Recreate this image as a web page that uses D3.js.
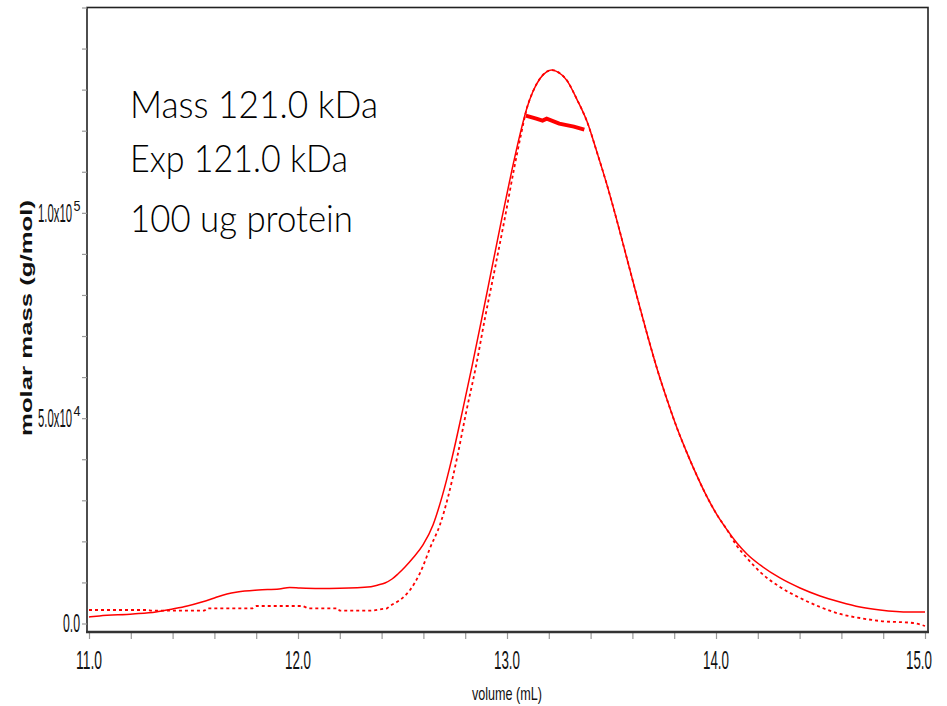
<!DOCTYPE html>
<html>
<head>
<meta charset="utf-8">
<script src="https://cdn.jsdelivr.net/npm/d3@7/dist/d3.min.js"></script>
<style>
  html, body { margin: 0; padding: 0; background: #ffffff; }
  svg { display: block; }
</style>
</head>
<body>
<svg id="chart" width="947" height="706"></svg>
<script>
// ---- data ----
const lsVolume = [11.00, 11.05, 11.21, 11.32, 11.40, 11.47, 11.54, 11.60, 11.66, 11.71, 11.81, 11.91, 11.96, 12.01, 12.10, 12.20, 12.349, 12.383, 12.416, 12.450, 12.478, 12.512, 12.550, 12.598, 12.646, 12.689, 12.737, 12.785, 12.833, 12.880, 12.928, 12.976, 13.024, 13.062, 13.096, 13.124, 13.158, 13.191, 13.215, 13.239, 13.287, 13.335, 13.383, 13.431, 13.478, 13.526, 13.574, 13.622, 13.670, 13.718, 13.766, 13.813, 13.861, 13.909, 13.957, 14.005, 14.053, 14.100, 14.148, 14.211, 14.306, 14.402, 14.498, 14.593, 14.689, 14.785, 14.928, 15.00];
const lsSignal = [1580, 1830, 2320, 2800, 3530, 4260, 5240, 6210, 7190, 7680, 8160, 8410, 8770, 8650, 8530, 8580, 8970, 9380, 9870, 10840, 12060, 13770, 15960, 19130, 24000, 30830, 40330, 51300, 62750, 74450, 86640, 98820, 110520, 119050, 125630, 129530, 132700, 134400, 134770, 134400, 132200, 127580, 122220, 114660, 106860, 98090, 88830, 79570, 70550, 62020, 54470, 47640, 41550, 35950, 30830, 26440, 22790, 19620, 16940, 14260, 11090, 8650, 6700, 5240, 4020, 3290, 2800, 2800];

const riVolume = [11.00, 11.28, 11.30, 11.55, 11.57, 11.78, 11.80, 12.02, 12.05, 12.19, 12.20, 12.34, 12.40, 12.426, 12.440, 12.488, 12.536, 12.584, 12.636, 12.679, 12.718, 12.761, 12.804, 12.852, 12.895, 12.943, 12.990, 13.033, 13.067, 13.096, 13.124, 13.158, 13.191, 13.215, 13.239, 13.287, 13.335, 13.383, 13.431, 13.478, 13.526, 13.574, 13.622, 13.670, 13.718, 13.766, 13.813, 13.861, 13.909, 13.957, 14.005, 14.053, 14.100, 14.148, 14.211, 14.306, 14.402, 14.498, 14.593, 14.689, 14.785, 14.943, 15.00];
const riSignal = [3290, 3290, 3120, 3120, 3700, 3700, 4260, 4260, 3700, 3700, 3120, 3120, 3500, 3700, 4260, 5730, 8160, 12310, 18890, 24000, 30830, 40330, 51300, 62750, 74450, 86640, 98820, 110520, 119050, 125630, 129530, 132700, 134400, 134770, 134400, 132200, 127580, 122220, 114660, 106860, 98090, 88830, 79570, 70550, 62020, 54470, 47640, 41550, 35950, 30830, 26440, 22790, 18890, 15960, 12550, 8900, 6210, 4020, 2320, 1340, 610, 120, -610];

const massVolume = [13.09, 13.14, 13.17, 13.19, 13.25, 13.32, 13.37];
const molarMass = [123680, 122950, 122460, 122950, 121730, 121000, 120270];

const xMajorTicks = [11, 12, 13, 14, 15];
const xTickLabels = ["11.0", "12.0", "13.0", "14.0", "15.0"];
const yMajorTicks = [0, 50000, 100000];
const yTickMantissa = ["0.0", "5.0x10", "1.0x10"];
const yTickExponent = ["", "4", "5"];

const notes = ["Mass 121.0 kDa", "Exp 121.0 kDa", "100 ug protein"];
const xTitle = "volume (mL)";
const yTitle = "molar mass (g/mol)";

// ---- layout ----
const svg = d3.select("#chart");
const frame = { left: 87, right: 928, top: 7.5, bottom: 632 };
const x = d3.scaleLinear().domain([11, 15]).range([89, 925]);
const y = d3.scaleLinear().domain([-2070, 150000]).range([632, 7.5]);

const red = "#ff0000";
const fontAxis = "Liberation Sans, Arial, sans-serif";

// frame
svg.append("rect")
  .attr("x", frame.left).attr("y", frame.top)
  .attr("width", frame.right - frame.left).attr("height", frame.bottom - frame.top)
  .attr("fill", "none").attr("stroke", "#222").attr("stroke-width", 1.6);

// x axis ticks
const xMinor = d3.range(11, 15.001, 0.2);
const xAxis = svg.append("g").attr("transform", `translate(0,${frame.bottom})`)
  .call(d3.axisBottom(x).tickValues(xMinor).tickSize(7).tickFormat(""));
xAxis.select(".domain").remove();
xAxis.selectAll(".tick line").attr("stroke", "#999").attr("stroke-width", 1.2);
svg.append("line").attr("x1", frame.left - 1).attr("x2", frame.right + 1)
  .attr("y1", frame.bottom).attr("y2", frame.bottom)
  .attr("stroke", "#333").attr("stroke-width", 2.4);

xMajorTicks.forEach((v, i) => {
  svg.append("text")
    .attr("x", Math.min(x(v), 919)).attr("y", 669)
    .attr("text-anchor", "middle")
    .attr("font-family", fontAxis)
    .attr("font-size", 26)
    .attr("textLength", 26).attr("lengthAdjust", "spacingAndGlyphs")
    .attr("fill", "#111")
    .text(xTickLabels[i]);
});

// y axis ticks
const yMinor = d3.range(0, 150001, 10000);
const yAxis = svg.append("g").attr("transform", `translate(${frame.left},0)`)
  .call(d3.axisLeft(y).tickValues(yMinor).tickSize(5).tickFormat(""));
yAxis.select(".domain").remove();
yAxis.selectAll(".tick line").attr("stroke", "#999").attr("stroke-width", 1.2);

yMajorTicks.forEach((v, i) => {
  const yy = y(v);
  if (yTickExponent[i]) {
    const t = svg.append("text")
      .attr("x", 38).attr("y", yy + 9)
      .attr("font-family", fontAxis)
      .attr("fill", "#111");
    t.append("tspan")
      .attr("font-size", 25)
      .attr("textLength", 34).attr("lengthAdjust", "spacingAndGlyphs")
      .text(yTickMantissa[i]);
    t.append("tspan")
      .attr("dx", 1.5).attr("dy", -11)
      .attr("font-size", 15)
      .attr("textLength", 7).attr("lengthAdjust", "spacingAndGlyphs")
      .text(yTickExponent[i]);
  } else {
    svg.append("text")
      .attr("x", 80).attr("y", yy + 9)
      .attr("text-anchor", "end")
      .attr("font-family", fontAxis)
      .attr("font-size", 25)
      .attr("textLength", 17).attr("lengthAdjust", "spacingAndGlyphs")
      .attr("fill", "#111")
      .text(yTickMantissa[i]);
  }
});

// axis titles
svg.append("text")
  .attr("x", 507).attr("y", 700)
  .attr("text-anchor", "middle")
  .attr("font-family", fontAxis)
  .attr("font-size", 19)
  .attr("textLength", 70).attr("lengthAdjust", "spacingAndGlyphs")
  .attr("fill", "#111")
  .text(xTitle);

svg.append("text")
  .attr("transform", "translate(32,318) rotate(-90)")
  .attr("text-anchor", "middle")
  .attr("font-family", fontAxis)
  .attr("font-weight", "bold")
  .attr("font-size", 16)
  .attr("textLength", 236).attr("lengthAdjust", "spacingAndGlyphs")
  .attr("fill", "#111")
  .text(yTitle);

// ---- series ----
svg.append("clipPath").attr("id", "plotclip").append("rect")
  .attr("x", frame.left).attr("y", frame.top)
  .attr("width", frame.right - frame.left).attr("height", frame.bottom - frame.top);

const lineGen = d3.line().x(d => x(d[0])).y(d => y(d[1])).curve(d3.curveMonotoneX);
const plot = svg.append("g").attr("clip-path", "url(#plotclip)");

plot.append("path")
  .datum(riVolume.map((v, i) => [v, riSignal[i]]))
  .attr("d", lineGen)
  .attr("fill", "none").attr("stroke", red)
  .attr("stroke-width", 1.8).attr("stroke-dasharray", "3,3");

plot.append("path")
  .datum(lsVolume.map((v, i) => [v, lsSignal[i]]))
  .attr("d", lineGen)
  .attr("fill", "none").attr("stroke", red)
  .attr("stroke-width", 1.5);

plot.append("path")
  .datum(massVolume.map((v, i) => [v, molarMass[i]]))
  .attr("d", d3.line().x(d => x(d[0])).y(d => y(d[1])))
  .attr("fill", "none").attr("stroke", red)
  .attr("stroke-width", 4);

// ---- annotation ----
const noteWidths = [248, 218, 223];
const noteBase = [118, 172, 232];
notes.forEach((t, i) => {
  svg.append("text")
    .attr("x", 130).attr("y", noteBase[i])
    .attr("font-family", "Lato, 'Open Sans', sans-serif")
    .attr("font-weight", 300)
    .attr("font-size", 38)
    .attr("textLength", noteWidths[i]).attr("lengthAdjust", "spacingAndGlyphs")
    .attr("fill", "#000")
    .text(t);
});
</script>
</body>
</html>
